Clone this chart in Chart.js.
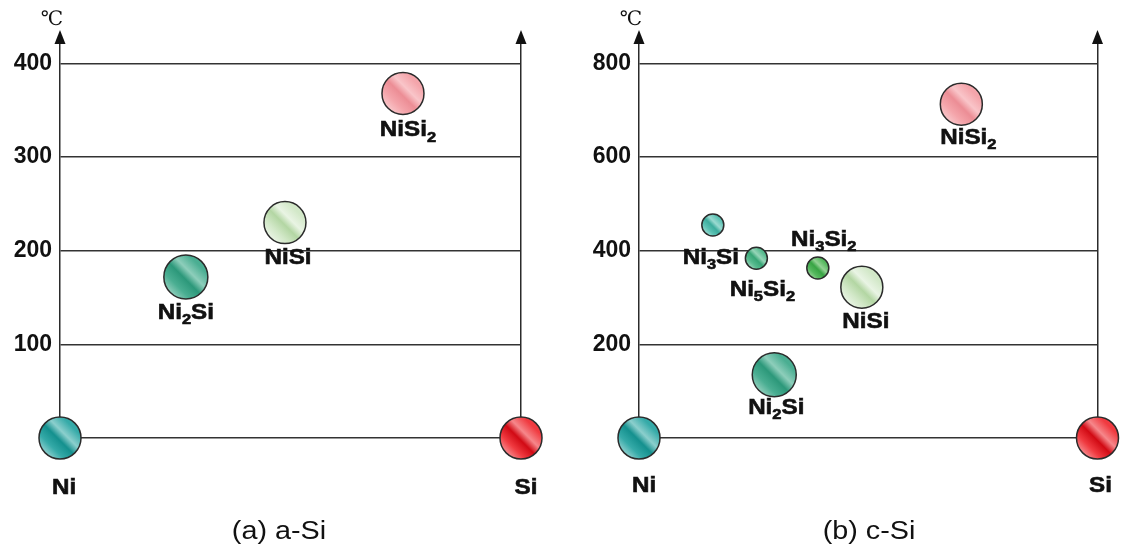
<!DOCTYPE html>
<html>
<head>
<meta charset="utf-8">
<script src="https://cdn.jsdelivr.net/npm/chart.js@4.4.1/dist/chart.umd.min.js"></script>
<style>
    body { margin: 0; background: #fff; }
    .panel { position: absolute; top: 0; }
    #panelA { left: 0; }
    #panelB { left: 560px; }
</style>
</head>
<body>
<div class="panel" id="panelA"><canvas id="chartA" width="560" height="547"></canvas></div>
<div class="panel" id="panelB"><canvas id="chartB" width="561" height="547"></canvas></div>
<script>
// (a) a-Si
const phasesA = ['Ni', 'Ni2Si', 'NiSi', 'NiSi2', 'Si'];
const compA = [0, 27.3, 48.8, 74.4, 100];
const tempA = [0, 172, 230, 368, 0];
const sizeA = [21, 22, 21, 21, 21];
const ticksA = [0, 100, 200, 300, 400];

// (b) c-Si
const phasesB = ['Ni', 'Ni3Si', 'Ni5Si2', 'Ni2Si', 'Ni3Si2', 'NiSi', 'NiSi2', 'Si'];
const compB = [0, 16.1, 25.6, 29.5, 39.0, 48.6, 70.3, 100];
const tempB = [0, 455, 384, 135, 363, 322, 713, 0];
const sizeB = [21, 11, 11, 22, 11, 21, 21, 21];
const ticksB = [0, 200, 400, 600, 800];

const FONT = "'Liberation Sans', Arial, sans-serif";
const INK = '#2b2b2b';
const STRETCH = 1.15; // the figure's lettering is a bit wide

// base, light and dark tone for each phase
const phaseColors = {
    'Ni': ['#35aaa8', '#e2f3f2', '#14908e'],
    'Si': ['#f03a40', '#fcd3d5', '#d10a14'],
    'NiSi2': ['#f4a5ab', '#fde4e6', '#ec8d95'],
    'NiSi': ['#d2e8c8', '#ffffff', '#b3d6a3'],
    'Ni2Si': ['#4aae92', '#d2ede3', '#2c987a'],
    'Ni3Si': ['#5cc2b4', '#daf2ee', '#3cac9d'],
    'Ni5Si2': ['#56ba8e', '#d5efe1', '#38a676'],
    'Ni3Si2': ['#55b85e', '#d0ecca', '#38a444']
};

// halfway between two hex colours
function mix(a, b) {
    const pa = a.match(/\w\w/g).map(h => parseInt(h, 16));
    const pb = b.match(/\w\w/g).map(h => parseInt(h, 16));
    return 'rgb(' + pa.map((v, i) => Math.round((v + pb[i]) / 2)).join(',') + ')';
}

// soft diagonal banding, like the shaded spheres of the figure
function bubbleFill(names) {
    return function (ctx) {
        const p = ctx.raw;
        const c = phaseColors[names[ctx.dataIndex]] || ['#999999', '#eeeeee', '#777777'];
        if (!p || !ctx.chart.scales.x) return c[0];
        const x = ctx.chart.scales.x.getPixelForValue(p.x);
        const y = ctx.chart.scales.y.getPixelForValue(p.y);
        const r = p.r;
        if (!isFinite(x) || !isFinite(y)) return c[0];
        const g = ctx.chart.ctx.createLinearGradient(x - r, y + r, x + r, y - r);
        g.addColorStop(0, c[1]);
        g.addColorStop(0.3, c[0]);
        g.addColorStop(0.47, c[2]);
        g.addColorStop(0.6, mix(c[0], c[1]));
        g.addColorStop(0.78, c[0]);
        g.addColorStop(1, c[0]);
        return g;
    };
}

// formula with subscript digits, e.g. NiSi2
function drawFormula(ctx, text, x, y) {
    const parts = text.match(/[A-Za-z]+|\d+/g);
    const big = 'bold 22px ' + FONT, small = 'bold 15px ' + FONT;
    let w = 0;
    parts.forEach(s => {
        ctx.font = /\d/.test(s) ? small : big;
        w += ctx.measureText(s).width;
    });
    ctx.save();
    ctx.translate(x, y);
    ctx.scale(1.1, 1);
    let cx = -w / 2;
    ctx.fillStyle = '#111';
    ctx.strokeStyle = '#111';
    ctx.lineWidth = 0.6;
    ctx.textAlign = 'left';
    ctx.textBaseline = 'middle';
    parts.forEach(s => {
        const sub = /\d/.test(s);
        ctx.font = sub ? small : big;
        ctx.fillText(s, cx, sub ? 7 : 0);
        ctx.strokeText(s, cx, sub ? 7 : 0);
        cx += ctx.measureText(s).width;
    });
    ctx.restore();
}

const phaseLabels = {
    id: 'phaseLabels',
    afterDatasetsDraw(chart, args, opts) {
        const ctx = chart.ctx;
        const meta = chart.getDatasetMeta(0);
        meta.data.forEach((el, i) => {
            const off = opts.offsets[i];
            drawFormula(ctx, opts.names[i], el.x + off[0], el.y + off[1]);
        });
    }
};

const decor = {
    id: 'decor',
    afterDraw(chart, args, opts) {
        const ctx = chart.ctx;
        const a = chart.chartArea;
        ctx.save();
        ctx.fillStyle = '#111';
        [a.left, a.right].forEach(x => {
            ctx.beginPath();
            ctx.moveTo(x, 30);
            ctx.lineTo(x - 5.5, 44);
            ctx.lineTo(x + 5.5, 44);
            ctx.closePath();
            ctx.fill();
        });
        ctx.font = "20px 'DejaVu Serif', serif";
        ctx.textAlign = 'center';
        ctx.textBaseline = 'middle';
        ctx.fillText('\u2103', a.left - 8, 20);
        ctx.translate(opts.captionX, 532);
        ctx.scale(STRETCH, 1);
        ctx.font = '25px ' + FONT;
        ctx.fillText(opts.caption, 0, 0);
        ctx.restore();
    }
};

function makeChart(id, names, comp, temp, size, ticks, yMax, leftW, rightW, offsets, caption, captionX) {
    const points = comp.map((x, i) => ({ x: x, y: temp[i], r: size[i] }));
    return new Chart(document.getElementById(id), {
        type: 'bubble',
        data: {
            datasets: [{
                data: points,
                backgroundColor: bubbleFill(names),
                borderColor: INK,
                borderWidth: 1.5,
                clip: false
            }]
        },
        options: {
            responsive: false,
            animation: false,
            events: [],
            layout: { padding: { top: 40, bottom: 109, left: 0, right: 0 } },
            plugins: {
                legend: { display: false },
                tooltip: { enabled: false },
                phaseLabels: { names: names, offsets: offsets },
                decor: { caption: caption, captionX: captionX }
            },
            scales: {
                x: { type: 'linear', min: 0, max: 100, display: false },
                y: {
                    min: 0,
                    max: yMax,
                    afterBuildTicks: scale => { scale.ticks = ticks.map(v => ({ value: v })); },
                    afterFit: scale => { scale.width = leftW; },
                    ticks: {
                        padding: 8,
                        color: '#111',
                        font: { family: FONT, size: 23, weight: 'bold' },
                        callback: v => v === 0 ? '' : v
                    },
                    grid: { color: '#333', lineWidth: 1.5, drawTicks: false },
                    border: { color: INK, width: 1.5 }
                },
                y2: {
                    position: 'right',
                    min: 0,
                    max: yMax,
                    afterFit: scale => { scale.width = rightW; },
                    ticks: { display: false },
                    grid: { display: false, drawTicks: false },
                    border: { color: INK, width: 1.5 }
                }
            }
        },
        plugins: [phaseLabels, decor]
    });
}

// label offsets from bubble centre (px)
const offsetsA = [[4, 50], [0, 36], [3, 35], [5, 37], [5, 50]];
const offsetsB = [[5, 48], [-2, 33], [6, 32], [2, 33], [6, -28], [4, 35], [7, 34], [3, 48]];

makeChart('chartA', phasesA, compA, tempA, sizeA, ticksA, 425, 60, 39, offsetsA, '(a) a-Si', 279);
makeChart('chartB', phasesB, compB, tempB, sizeB, ticksB, 850, 79, 19, offsetsB, '(b) c-Si', 309);
</script>
</body>
</html>
